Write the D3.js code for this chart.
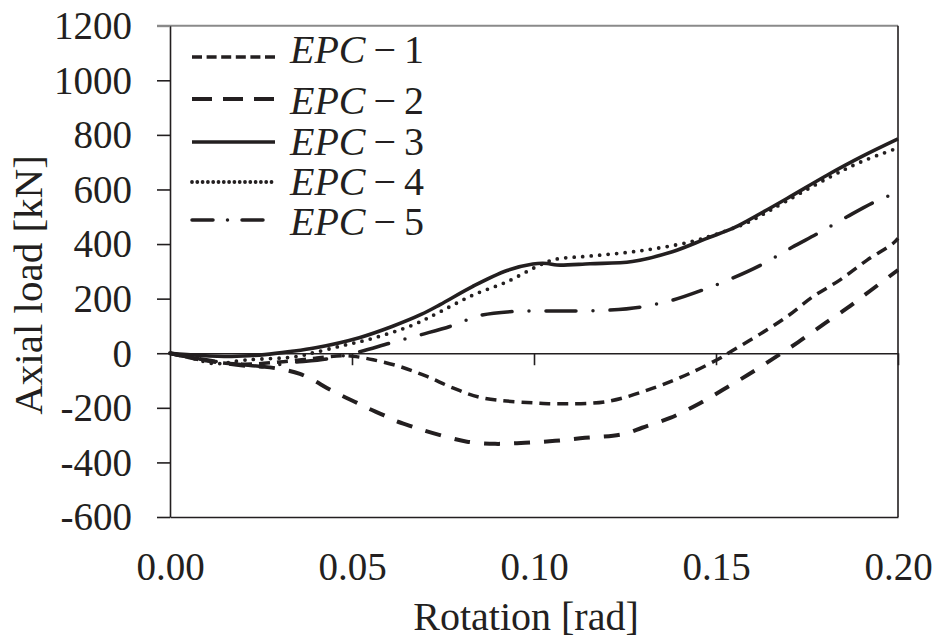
<!DOCTYPE html>
<meta charset="utf-8">
<style>
  body { margin: 0; background: #fff; }
  text { font-family: "Liberation Serif", "Times New Roman", serif; fill: #231f20; }
</style>
<svg width="937" height="639"></svg>
<script src="https://d3js.org/d3.v7.min.js"></script>
<script>

// axis ticks
var xTicks = [0, 0.05, 0.10, 0.15, 0.20];
var yTicks = [-600, -400, -200, 0, 200, 400, 600, 800, 1000, 1200];

// series names
var names = ["EPC", "EPC", "EPC", "EPC", "EPC"];
var numbers = ["1", "2", "3", "4", "5"];

// rotation [rad], axial load [kN]
var epc1 = [[0,0],[0.01,-28],[0.02,-40],[0.03,-32],[0.04,-18],[0.047,-9],[0.0503,-11],[0.0558,-24],
  [0.0632,-49],[0.0706,-85],[0.0777,-127],[0.086,-164],[0.1016,-183],[0.1063,-185],[0.12,-177],
  [0.1327,-128],[0.1429,-73],[0.1519,-12],[0.1538,4],[0.1621,70],[0.1695,134],[0.1766,207],
  [0.184,268],[0.1915,341],[0.1986,402],[0.2,421]];
var epc2 = [[0,0],[0.01,-25],[0.02,-45],[0.026,-50],[0.0316,-61],[0.0357,-76],[0.0393,-98],
  [0.0431,-127],[0.0467,-152],[0.0514,-182],[0.0541,-200],[0.0585,-226],[0.0613,-244],[0.0659,-266],
  [0.0695,-282],[0.0769,-310],[0.0816,-324],[0.0893,-332],[0.0975,-328],[0.1058,-321],[0.114,-310],
  [0.1217,-302],[0.1258,-292],[0.1297,-273],[0.1374,-237],[0.1448,-189],[0.1519,-134],[0.1588,-79],
  [0.1657,-20],[0.1725,40],[0.1794,105],[0.186,165],[0.1923,228],[0.2,305]];
var epc3 = [[0,0],[0.008,-8],[0.017,-12],[0.026,-5],[0.033,6],[0.04,20],[0.052,57],[0.061,98],
  [0.069,142],[0.0742,178],[0.0832,245],[0.0926,303],[0.0997,327],[0.1036,329],[0.1063,323],
  [0.1154,328],[0.127,336],[0.138,372],[0.1475,421],[0.1547,458],[0.159,488],[0.1695,567],
  [0.1805,652],[0.19,720],[0.2,785]];
var epc4 = [[0,0],[0.006,-18],[0.0123,-38],[0.0206,-25],[0.0343,-13],[0.0398,3],[0.0475,28],
  [0.0558,55],[0.0668,104],[0.0742,152],[0.0832,213],[0.0926,262],[0.1016,323],[0.1058,344],
  [0.1154,356],[0.129,375],[0.1429,408],[0.152,445],[0.159,481],[0.1657,530],[0.1805,640],
  [0.19,702],[0.2,752]];
var epc5 = [[0,0],[0.01,-25],[0.02,-42],[0.027,-48],[0.0321,-36],[0.0431,-21],[0.0522,6],
  [0.0604,37],[0.0687,67],[0.0769,98],[0.0816,122],[0.0857,140],[0.0942,153],[0.103,155],
  [0.1118,155],[0.1209,158],[0.1297,170],[0.1382,195],[0.1464,232],[0.1547,276],[0.1629,327],
  [0.1709,388],[0.178,439],[0.186,500],[0.1937,555],[0.2,590]];

var allData = [epc1, epc2, epc3, epc4, epc5];

// line styles per series
var styles = [
  {dash: "11,7", ldash: "10,4.6", w: 3.5, cap: "butt"},
  {dash: "16,14", ldash: "20,11", w: 4, cap: "butt"},
  {dash: null, ldash: null, w: 3.6, cap: "butt"},
  {dash: "0,8.5", ldash: "0,5.3", w: 3.8, cap: "round"},
  {dash: "30,17,0,17", ldash: "21,14.5,0,14.5", w: 3.5, cap: "round"}
];

var svg = d3.select("svg"),
    pl = 170, pr = 898, pt = 25.7, pb = 517,
    ink = "#231f20";

var x = d3.scaleLinear().domain([0, 0.2]).range([pl, pr]);
var y = d3.scaleLinear().domain([-600, 1200]).range([pb, pt]);

// frame
svg.append("line").attr("x1", 157).attr("x2", pr).attr("y1", pt).attr("y2", pt)
    .attr("stroke", "#8a8a8a").attr("stroke-width", 2);
svg.append("line").attr("x1", pr).attr("x2", pr).attr("y1", pt).attr("y2", pb)
    .attr("stroke", ink).attr("stroke-width", 1.6);

// y axis
var gy = svg.append("g").attr("transform", "translate(" + pl + ",0)")
    .call(d3.axisLeft(y).tickValues(yTicks).tickSize(13).tickSizeOuter(0).tickPadding(25)
      .tickFormat(function(d){ return String(d); }));
gy.selectAll("text").style("font-size", "39px").attr("dy", "0.33em");

// bottom axis with labels
var gx = svg.append("g").attr("transform", "translate(0," + pb + ")")
    .call(d3.axisBottom(x).tickValues(xTicks).tickSize(0).tickSizeOuter(0).tickPadding(35)
      .tickFormat(d3.format(".2f")));
gx.selectAll("text").style("font-size", "39px");

// zero line with ticks
var gz = svg.append("g").attr("transform", "translate(0," + y(0) + ")")
    .call(d3.axisBottom(x).tickValues(xTicks.slice(1)).tickSize(12).tickSizeOuter(0).tickFormat(""));

svg.selectAll(".domain, .tick line").attr("stroke", ink).attr("stroke-width", 1.6);
gy.selectAll(".tick line").filter(function(d){ return d === 1200; })
    .attr("stroke", "#8a8a8a").attr("stroke-width", 2);
svg.selectAll(".tick text").attr("fill", ink).style("font-family", "'Liberation Serif', serif");

// curves
var line = d3.line().x(function(d){ return x(d[0]); }).y(function(d){ return y(d[1]); })
    .curve(d3.curveCatmullRom.alpha(0.5));

allData.forEach(function(data, i){
  var s = styles[i];
  svg.append("path")
      .attr("d", line(data))
      .attr("fill", "none")
      .attr("stroke", ink)
      .attr("stroke-width", s.w)
      .attr("stroke-linecap", s.cap)
      .attr("stroke-linejoin", "round")
      .attr("stroke-dasharray", s.dash);
});

// legend
var lineY = [57, 99, 142, 182, 220],
    textY = [50, 101, 142, 182, 222];
names.forEach(function(n, i){
  var s = styles[i];
  svg.append("line")
      .attr("x1", 192).attr("x2", 275).attr("y1", lineY[i]).attr("y2", lineY[i])
      .attr("stroke", ink)
      .attr("stroke-width", s.w)
      .attr("stroke-linecap", s.cap)
      .attr("stroke-dasharray", s.ldash);
  var t = svg.append("text").attr("x", 290).attr("y", textY[i]).attr("dy", "0.33em")
      .style("font-size", "40px");
  t.append("tspan").style("font-style", "italic").text(n);
  t.append("tspan").text("\u2009\u2212\u2009" + numbers[i]);
});

// axis titles
svg.append("text")
    .attr("x", 526).attr("y", 630)
    .attr("text-anchor", "middle")
    .style("font-size", "40px")
    .text("Rotation [rad]");

svg.append("text")
    .attr("transform", "translate(42,285) rotate(-90)")
    .attr("text-anchor", "middle")
    .style("font-size", "41px")
    .text("Axial load [kN]");

</script>
